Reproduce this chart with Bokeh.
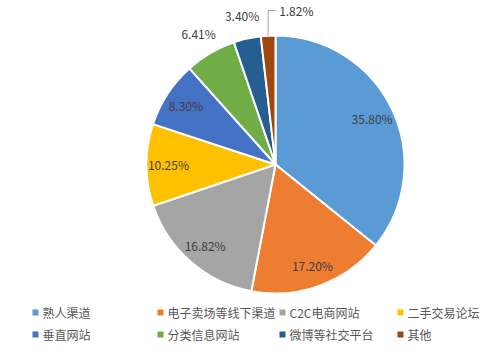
import math
from bokeh.plotting import figure
from bokeh.models import Range1d, ColumnDataSource
from bokeh.core.properties import value
from bokeh.embed import file_html
from bokeh.resources import INLINE

categories = ["熟人渠道", "电子卖场等线下渠道", "C2C电商网站", "二手交易论坛",
              "垂直网站", "分类信息网站", "微博等社交平台", "其他"]
shares = [35.80, 17.20, 16.82, 10.25, 8.30, 6.41, 3.40, 1.82]
colors = ["#5B9BD5", "#ED7D31", "#A5A5A5", "#FFC000",
          "#4472C4", "#70AD47", "#255E91", "#9E480E"]

W, H = 482, 345
CX, CY, R = 275, 181, 129
FONT = "Noto Sans CJK SC"

p = figure(width=W, height=H, output_backend="svg", toolbar_location=None,
           x_range=Range1d(0, W), y_range=Range1d(0, H), min_border=0)
p.axis.visible = False
p.grid.visible = False
p.outline_line_color = None
p.background_fill_color = "white"

total = sum(shares)
starts, ends, mids = [], [], []
c = 0.0
for s in shares:
    a0 = math.pi / 2 - 2 * math.pi * c / total
    c += s
    a1 = math.pi / 2 - 2 * math.pi * c / total
    starts.append(a0)
    ends.append(a1)
    mids.append((a0 + a1) / 2)

src = ColumnDataSource(dict(start=starts, end=ends, color=colors))
p.wedge(x=CX, y=CY, radius=R, start_angle="start", end_angle="end",
        direction="clock", fill_color="color", line_color="white",
        line_width=2, source=src)

labels = ["%.2f%%" % s for s in shares]
in_x, in_y, in_t = [], [], []
out_x, out_y, out_t = [], [], []
for i, (m, t) in enumerate(zip(mids, labels)):
    if i < 5:
        in_x.append(CX + 0.83 * R * math.cos(m))
        in_y.append(CY + 0.83 * R * math.sin(m))
        in_t.append(t)
    elif i < 7:
        out_x.append(CX + 1.18 * R * math.cos(m))
        out_y.append(CY + 1.18 * R * math.sin(m))
        out_t.append(t)

p.text(x=in_x, y=in_y, text=in_t, text_font=value(FONT), text_font_size="12px",
       text_color="#404040", text_align="center", text_baseline="middle")
p.text(x=out_x, y=out_y, text=out_t, text_font=value(FONT), text_font_size="12px",
       text_color="#404040", text_align="center", text_baseline="middle")

# leader line for the last small slice
m = mids[7]
ex, ey = CX + R * math.cos(m), CY + R * math.sin(m)
top = H - 10
p.line(x=[ex, ex, ex + 8], y=[ey, top, top], line_color="#A6A6A6", line_width=1)
p.text(x=[ex + 11], y=[top], text=[labels[7]], text_font=value(FONT),
       text_font_size="12px", text_color="#404040", text_align="left",
       text_baseline="middle")

# legend
col_x = [32, 157, 279, 397]
row_y = [33, 11]
lx, ly, lt, lc = [], [], [], []
for i, (cat, col) in enumerate(zip(categories, colors)):
    lx.append(col_x[i % 4])
    ly.append(row_y[i // 4])
    lt.append(cat)
    lc.append(col)
p.rect(x=[x + 3 for x in lx], y=ly, width=6, height=6, fill_color=lc, line_color=None)
p.text(x=[x + 10 for x in lx], y=ly, text=lt, text_font=value(FONT),
       text_font_size="12px", text_color="#595959", text_align="left",
       text_baseline="middle")

open("out.html", "w").write(file_html(p, INLINE))
